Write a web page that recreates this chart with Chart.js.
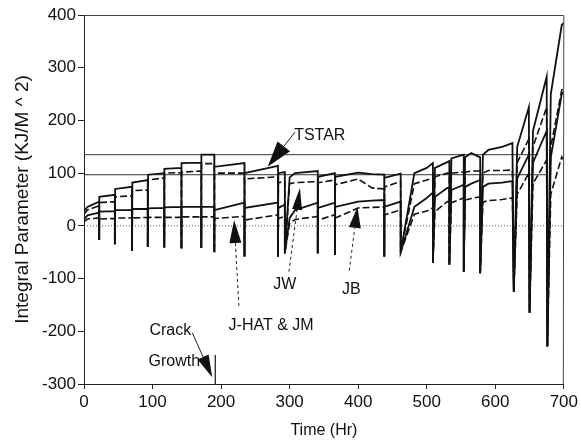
<!DOCTYPE html>
<html>
<head>
<meta charset="utf-8">
<script src="https://cdn.jsdelivr.net/npm/chart.js@4"></script>
<style>
  html, body { margin: 0; padding: 0; background: #fff; }
  #wrap { width: 581px; height: 440px; }
</style>
</head>
<body>
<div id="wrap"><canvas id="chart" width="581" height="440"></canvas></div>
<script>
// data
var hours = [0, 5, 22, 22, 22.5, 45, 45, 45.5, 70, 70, 70.5, 93, 93, 93.5, 117, 117, 117.5, 142, 142, 142.5,
    171, 171, 171.5, 190, 190, 190.5, 234, 234, 234.5, 283, 283, 283.5, 293, 293, 300, 308, 341, 341, 341.5,
    366, 366, 366.5, 400, 420, 438, 438, 438.5, 462, 462, 482, 500, 509, 509, 512, 530, 533, 533, 536,
    554, 554, 556, 565, 578, 578, 582, 590, 610, 625, 627, 632, 649, 650, 655, 675, 676, 681, 697, 700];

var tstar = [28, 36, 46, -27, 55, 59, -35, 70, 74, -47, 82, 87, -40, 97, 100, -41, 108, 110, -43, 119,
    120, -42, 135, 135, -50, 112, 119, -58, 100, 114, -58, 100, 102, -52, 92, 100, 104, -52, 93,
    100, -55, 93, 101, 98, 97, -58, 91, 99, -50, 100, 110, 119, -70, 110, 121, 123, -74, 128,
    135, -87, 130, 138, 130, -90, 135, 144, 150, 157, -125, 150, 225, -165, 180, 283, -229, 250, 381, 385];

var jw = [22, 30, 38, -27, 44, 46, -35, 55, 57, -47, 67, 68, -40, 87, 91, -41, 100, 101, -43, 102,
    104, -42, 118, 118, -50, 100, 100, -58, 89, 93, -58, 82, 84, -52, 80, 82, 84, -52, 82,
    87, -55, 78, 89, 72, 70, -58, 74, 84, -50, 80, 87, 91, -70, 93, 100, 100, -74, 100,
    102, -87, 102, 104, 104, -90, 100, 105, 105, 106, -125, 120, 165, -165, 150, 225, -229, 150, 258, 262];

var jb = [12, 20, 25, -27, 27, 28, -35, 30, 30, -47, 32, 32, -40, 33, 34, -41, 35, 36, -43, 36,
    36, -42, 36, 36, -50, 30, 44, -58, 34, 44, -58, 34, 40, -52, 15, 30, 44, -52, 34,
    44, -55, 36, 46, 48, 49, -58, 36, 46, -50, 36, 53, 63, -70, 55, 72, 72, -74, 68,
    78, -87, 74, 80, 87, -90, 74, 80, 82, 85, -125, 90, 135, -165, 120, 180, -229, 130, 250, 255];

var jhat = [8, 13, 15, -27, 13, 14, -35, 15, 15, -47, 15, 16, -40, 16, 16, -41, 16, 16, -43, 17,
    17, -42, 17, 17, -50, 14, 18, -58, 11, 21, -58, 14, 18, -52, 5, 12, 18, -52, 11,
    21, -55, 15, 34, 35, 36, -58, 21, 30, -50, 22, 28, 34, -70, 27, 46, 46, -74, 44,
    53, -87, 49, 52, 55, -90, 45, 48, 50, 53, -125, 60, 100, -165, 80, 125, -229, 60, 131, 125];

var refLevels = [135, 97];
var refEnds = [663, 675];
var crackHour = 191.5;
var crackRange = [-245, -300];

function pts(values) {
    return hours.map(function (h, i) { return { x: h, y: values[i] }; });
}

var ink = '#111';

var datasets = [
    { label: 'TSTAR', data: pts(tstar), borderColor: ink, borderWidth: 1.8 },
    { label: 'JW', data: pts(jw), borderColor: ink, borderWidth: 1.6, borderDash: [7, 3] },
    { label: 'JB', data: pts(jb), borderColor: ink, borderWidth: 1.8 },
    { label: 'J-HAT & JM', data: pts(jhat), borderColor: ink, borderWidth: 1.6, borderDash: [7, 3] },
    { label: 'zero', data: [{ x: 0, y: 0 }, { x: 700, y: 0 }], borderColor: '#555', borderWidth: 1, borderDash: [1, 2] },
    { label: 'crack', data: [{ x: crackHour, y: crackRange[0] }, { x: crackHour, y: crackRange[1] }], borderColor: ink, borderWidth: 1.2 }
];
refLevels.forEach(function (lv, i) {
    datasets.push({ label: 'ref' + i, data: [{ x: 0, y: lv }, { x: refEnds[i], y: lv }], borderColor: '#333', borderWidth: 1 });
});
datasets.forEach(function (d) {
    d.pointRadius = 0;
    d.tension = 0;
    d.fill = false;
});

// callouts, in data coordinates
var notes = [
    { lines: ['TSTAR'], x: 344, y: 171, tail: [308, 178], tip: [268, 112], head: 26, half: 8, dash: [] },
    { lines: ['JW'], x: 293, y: -112, tail: [299, -87], tip: [315, 72], head: 22, half: 5, dash: [3, 3] },
    { lines: ['JB'], x: 390, y: -121, tail: [387, -85], tip: [399, 36], head: 21, half: 6, dash: [3, 3] },
    { lines: ['J-HAT & JM'], x: 273, y: -190, tail: [226, -152], tip: [219, 11], head: 23, half: 6, dash: [3, 3] },
    { lines: ['Crack', 'Growth'], x: 126, y: -199, lineGap: 31, tail: [158, -203], tip: [187, -287], head: 22, half: 6, dash: [] }
];

var calloutPlugin = {
    id: 'callouts',
    afterDatasetsDraw: function (chart) {
        var ctx = chart.ctx, sx = chart.scales.x, sy = chart.scales.y;
        ctx.save();
        ctx.font = '16px "Liberation Sans", Arial, sans-serif';
        ctx.fillStyle = ink;
        ctx.strokeStyle = '#222';
        ctx.textAlign = 'center';
        ctx.textBaseline = 'middle';
        notes.forEach(function (n) {
            var px = sx.getPixelForValue(n.x), py = sy.getPixelForValue(n.y);
            n.lines.forEach(function (t, i) {
                ctx.fillText(t, px + (i ? 4 : 0), py + i * (n.lineGap || 0));
            });
            var x0 = sx.getPixelForValue(n.tail[0]), y0 = sy.getPixelForValue(n.tail[1]);
            var x1 = sx.getPixelForValue(n.tip[0]), y1 = sy.getPixelForValue(n.tip[1]);
            var dx = x1 - x0, dy = y1 - y0, len = Math.sqrt(dx * dx + dy * dy);
            var ux = dx / len, uy = dy / len;
            var bx = x1 - ux * n.head, by = y1 - uy * n.head;
            ctx.setLineDash(n.dash);
            ctx.lineWidth = 1;
            ctx.beginPath();
            ctx.moveTo(x0, y0);
            ctx.lineTo(bx, by);
            ctx.stroke();
            ctx.setLineDash([]);
            ctx.beginPath();
            ctx.moveTo(x1, y1);
            ctx.lineTo(bx - uy * n.half, by + ux * n.half);
            ctx.lineTo(bx + uy * n.half, by - ux * n.half);
            ctx.closePath();
            ctx.fill();
        });
        // top and right frame
        var a = chart.chartArea;
        ctx.strokeStyle = '#444';
        ctx.lineWidth = 1;
        ctx.beginPath();
        ctx.moveTo(a.left, a.top + 0.5);
        ctx.lineTo(a.right, a.top + 0.5);
        ctx.lineTo(a.right - 0.5, a.bottom);
        ctx.stroke();
        ctx.restore();
    }
};

var tickFont = { family: '"Liberation Sans", Arial, sans-serif', size: 17 };

new Chart(document.getElementById('chart').getContext('2d'), {
    type: 'line',
    data: { datasets: datasets },
    options: {
        responsive: false,
        animation: false,
        layout: { padding: { top: 15, right: 14, left: 0, bottom: 0 } },
        plugins: { legend: { display: false }, tooltip: { enabled: false } },
        scales: {
            x: {
                type: 'linear',
                min: 0,
                max: 700,
                afterFit: function (scale) { scale.height = 56; },
                ticks: { stepSize: 100, color: ink, font: tickFont, padding: 3, maxRotation: 0 },
                grid: { drawOnChartArea: false, tickLength: 5, color: '#222' },
                border: { color: '#222', width: 1 },
                title: { display: true, text: 'Time (Hr)', color: ink, font: { family: '"Liberation Sans", Arial, sans-serif', size: 16 }, padding: { top: 2, bottom: 0 } }
            },
            y: {
                min: -300,
                max: 400,
                afterFit: function (scale) { scale.width = 84; },
                ticks: { stepSize: 100, color: ink, font: tickFont, padding: 2 },
                grid: { drawOnChartArea: false, tickLength: 6, color: '#222' },
                border: { color: '#222', width: 1 },
                title: {
                    display: true,
                    text: 'Integral Parameter (KJ/M ^ 2)',
                    color: ink,
                    font: { family: '"Liberation Sans", Arial, sans-serif', size: 19 },
                    padding: { top: 11, bottom: 0 }
                }
            }
        }
    },
    plugins: [calloutPlugin]
});
</script>
</body>
</html>
